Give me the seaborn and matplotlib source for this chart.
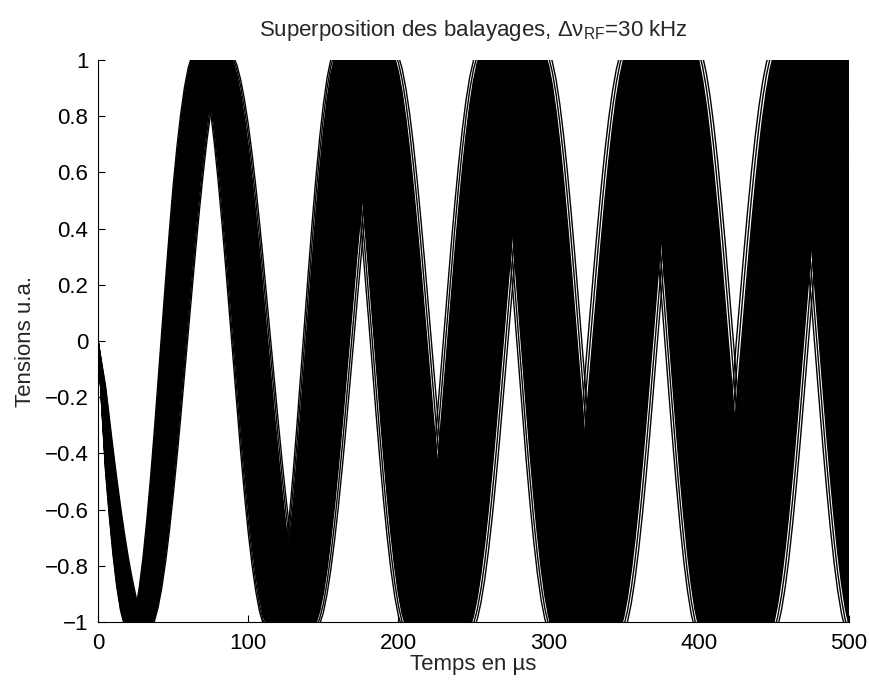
import numpy as np
import pandas as pd
import matplotlib
matplotlib.use("Agg")
import matplotlib.pyplot as plt
import seaborn as sns

# ---- data ----
time_knots_us = [0, 5, 25, 50, 75, 100, 125, 150, 175, 200, 225, 275, 325, 375, 425, 475, 500]
band_spread_us = [0, 5, 14, 18, 21, 25, 28, 34, 39, 41, 42, 44, 46, 45, 48, 46, 47]
band_center_shift_us = [0, 0, 1, 0, 0, 1, 2, 2, 1, 1, 1, 1, -1, 0, -1, 0, 0]
amplitude_knots = [1.02, 1.02, 1.03, 1.03, 1.03, 1.03, 1.03, 1.04, 1.04, 1.04, 1.04, 1.04, 1.05, 1.06, 1.06, 1.06, 1.06]
period_us = 100.0
sample_step_us = 2.5
sweep_delay_fraction = [
    -0.50, -0.465,
    -0.43, -0.42, -0.41, -0.40, -0.39, -0.38, -0.37, -0.36, -0.35, -0.34,
    -0.33, -0.32, -0.31, -0.30, -0.29, -0.28, -0.27, -0.26, -0.25, -0.24,
    -0.23, -0.22, -0.21, -0.20, -0.19, -0.18, -0.17, -0.16, -0.15, -0.14,
    -0.13, -0.12, -0.11, -0.10, -0.09, -0.08, -0.07, -0.06, -0.05, -0.04,
    -0.03, -0.02, -0.01, 0.00, 0.01, 0.02, 0.03, 0.04, 0.05, 0.06,
    0.07, 0.08, 0.09, 0.10, 0.11, 0.12, 0.13, 0.14, 0.15, 0.16,
    0.17, 0.18, 0.19, 0.20, 0.21, 0.22, 0.23, 0.24, 0.25, 0.26,
    0.27, 0.28, 0.29, 0.30, 0.31, 0.32, 0.33, 0.34, 0.35, 0.36,
    0.37, 0.38, 0.39, 0.40, 0.41, 0.42, 0.43,
    0.465, 0.50,
]
x_ticks = [0, 100, 200, 300, 400, 500]
y_ticks = [-1, -0.8, -0.6, -0.4, -0.2, 0, 0.2, 0.4, 0.6, 0.8, 1]
y_tick_labels = ["\u22121", "\u22120.8", "\u22120.6", "\u22120.4", "\u22120.2", "0",
                 "0.2", "0.4", "0.6", "0.8", "1"]

# ---- build long-form table ----
t = np.arange(0, 500 + sample_step_us / 2, sample_step_us)
spread = np.interp(t, time_knots_us, band_spread_us)
center = np.interp(t, time_knots_us, band_center_shift_us)
amp = np.interp(t, time_knots_us, amplitude_knots)
rows = []
for i, frac in enumerate(sweep_delay_fraction):
    delay = center + frac * spread
    y = -amp * np.sin(2 * np.pi * (t - delay) / period_us)
    rows.append(pd.DataFrame({"t": t, "v": y, "sweep": i}))
df = pd.concat(rows, ignore_index=True)

# ---- plot ----
sns.set_theme(style="ticks")
plt.rcParams["font.family"] = ["Liberation Sans", "DejaVu Sans"]
plt.rcParams["mathtext.fontset"] = "custom"
plt.rcParams["mathtext.rm"] = "Liberation Sans"
plt.rcParams["mathtext.it"] = "Liberation Sans:italic"
plt.rcParams["mathtext.sf"] = "Liberation Sans"

fs = 16
fig = plt.figure(figsize=(8.69, 6.84), dpi=100)
ax = fig.add_axes([0.1128, 0.0906, 0.8642, 0.8217])
sns.lineplot(data=df, x="t", y="v", units="sweep", estimator=None,
             color="black", linewidth=1.0, ax=ax, legend=False)

ax.set_xlim(0, 500)
ax.set_ylim(-1, 1)
ax.set_xticks(x_ticks)
ax.set_xticklabels([str(v) for v in x_ticks])
ax.set_yticks(y_ticks)
ax.set_yticklabels(y_tick_labels)
ax.tick_params(direction="in", length=5, width=0.8, labelsize=fs, colors="black")
ax.tick_params(axis="x", pad=8)
ax.tick_params(axis="y", pad=7)
for s in ["top", "right"]:
    ax.spines[s].set_visible(False)
for s in ["left", "bottom"]:
    ax.spines[s].set_color("black")
    ax.spines[s].set_linewidth(0.8)

ax.set_xlabel("Temps en \u00b5s", fontsize=fs, labelpad=0)
ax.set_ylabel("Tensions u.a.", fontsize=fs, labelpad=6)
ax.set_title("Superposition des balayages, \u0394\u03bd$_{\\rm RF}$=30 kHz", fontsize=fs, pad=17)

fig.savefig("out.png", dpi=100)
